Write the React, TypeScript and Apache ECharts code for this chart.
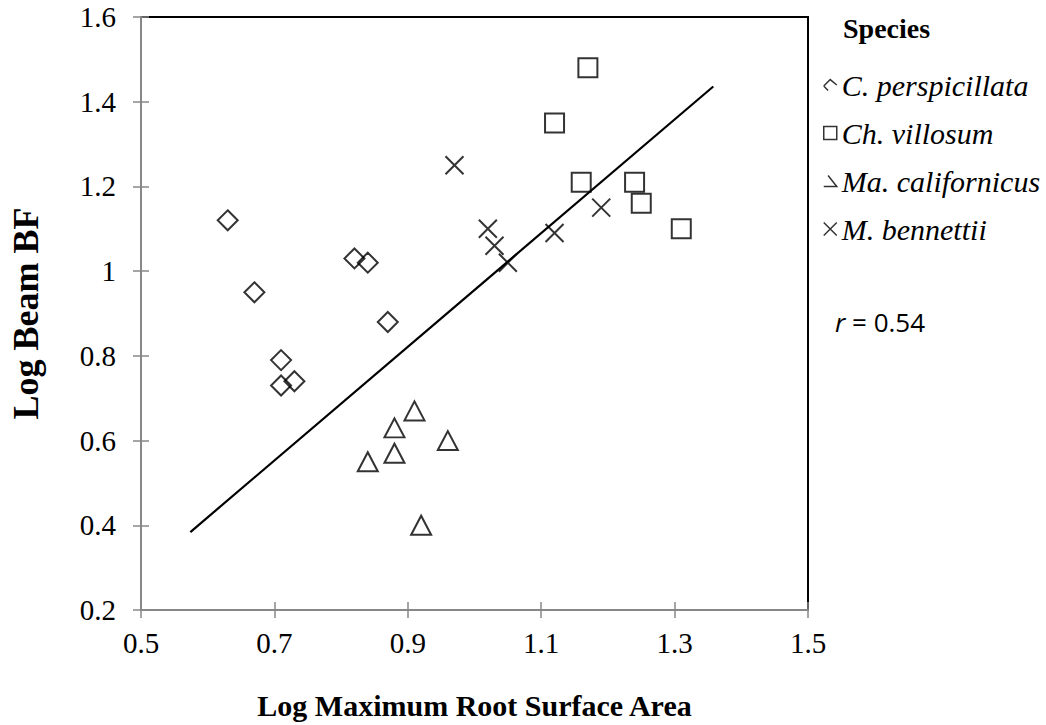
import React, { useEffect, useRef } from "react";
import * as echarts from "echarts";

// Data
const perspicillataX = [0.63, 0.67, 0.82, 0.84, 0.87, 0.71, 0.71, 0.73];
const perspicillataY = [1.12, 0.95, 1.03, 1.02, 0.88, 0.79, 0.73, 0.74];

const villosumX = [1.17, 1.12, 1.16, 1.24, 1.25, 1.31];
const villosumY = [1.48, 1.35, 1.21, 1.21, 1.16, 1.1];

const californicusX = [0.91, 0.88, 0.96, 0.88, 0.84, 0.92];
const californicusY = [0.67, 0.63, 0.6, 0.57, 0.55, 0.4];

const bennettiiX = [0.97, 1.02, 1.03, 1.05, 1.12, 1.19];
const bennettiiY = [1.25, 1.1, 1.06, 1.02, 1.09, 1.15];

const trendX = [0.574, 1.358];
const trendY = [0.384, 1.436];

const speciesNames = ["C. perspicillata", "Ch. villosum", "Ma. californicus", "M. bennettii"];

const xMin = 0.5, xMax = 1.5, xStep = 0.2;
const yMin = 0.2, yMax = 1.6, yStep = 0.2;

const zip = (xs: number[], ys: number[]) => xs.map((x, i) => [x, ys[i]]);

const SERIF = "'Liberation Serif', 'Times New Roman', serif";
const AXIS_GRAY = "#878787";

const crossPath = "path://M0,0 L10,10 M10,0 L0,10";

export default function App() {
  const ref = useRef<HTMLDivElement>(null);

  useEffect(() => {
    if (!ref.current) return;
    const chart = echarts.init(ref.current, undefined, { renderer: "svg" });

    const markerStyle = { color: "transparent", borderColor: "#000", borderWidth: 2 };

    const axisCommon = {
      type: "value" as const,
      splitLine: { show: false },
    };

    chart.setOption({
      animation: false,
      backgroundColor: "#fff",
      grid: {
        left: 141,
        top: 17,
        right: 238,
        bottom: 114,
        show: true,
        borderColor: "#000",
        borderWidth: 2,
        backgroundColor: "transparent",
      },
      legend: {
        orient: "vertical",
        left: 818,
        top: 65,
        itemWidth: 13,
        itemHeight: 13,
        itemGap: 18,
        textStyle: {
          fontFamily: SERIF,
          fontStyle: "italic",
          fontSize: 30,
          lineHeight: 30,
          color: "#000",
        },
        data: [
          { name: speciesNames[0], icon: "path://M0,7 L6,1 L12,6 M0,7 L4,11" },
          { name: speciesNames[1], icon: "rect" },
          { name: speciesNames[2], icon: "path://M4,0 L12,10 L0,10" },
          { name: speciesNames[3], icon: crossPath },
        ],
        itemStyle: { color: "transparent", borderColor: "#000", borderWidth: 1.5 },
      },
      graphic: [
        {
          type: "text",
          left: 843,
          top: 14,
          style: {
            text: "Species",
            font: `bold 28px ${SERIF}`,
            fill: "#000",
          },
        },
        {
          type: "text",
          left: 835,
          top: 309,
          style: {
            text: "{i|r} = 0.54",
            font: "26px 'Open Sans', sans-serif",
            fill: "#000",
            rich: {
              i: { fontStyle: "italic", fontFamily: "'Open Sans', sans-serif", fontSize: 26, fill: "#000" },
            },
          },
        },
      ],
      xAxis: [
        {
          ...axisCommon,
          min: xMin,
          max: xMax,
          interval: xStep,
          position: "bottom",
          axisLine: { show: true, onZero: false, lineStyle: { color: AXIS_GRAY, width: 2 } },
          axisTick: { show: true, inside: false, length: 8, lineStyle: { color: AXIS_GRAY, width: 1.5 } },
          axisLabel: { fontFamily: SERIF, fontSize: 29, color: "#000", margin: 18 },
          name: "Log Maximum Root Surface Area",
          nameLocation: "middle",
          nameGap: 80,
          nameTextStyle: { fontFamily: SERIF, fontSize: 30, fontWeight: "bold", color: "#000" },
        },
        {
          ...axisCommon,
          min: xMin,
          max: xMax,
          interval: xStep,
          position: "bottom",
          axisLine: { show: false, onZero: false },
          axisTick: { show: true, inside: true, length: 8, lineStyle: { color: AXIS_GRAY, width: 1.5 } },
          axisLabel: { show: false },
        },
      ],
      yAxis: [
        {
          ...axisCommon,
          min: yMin,
          max: yMax,
          interval: yStep,
          position: "left",
          axisLine: { show: true, onZero: false, lineStyle: { color: AXIS_GRAY, width: 2 } },
          axisTick: { show: true, inside: false, length: 8, lineStyle: { color: AXIS_GRAY, width: 1.5 } },
          axisLabel: { fontFamily: SERIF, fontSize: 29, color: "#000", margin: 25 },
          name: "Log Beam BF",
          nameLocation: "middle",
          nameRotate: 90,
          nameGap: 97,
          nameTextStyle: { fontFamily: SERIF, fontSize: 36, fontWeight: "bold", color: "#000" },
        },
        {
          ...axisCommon,
          min: yMin,
          max: yMax,
          interval: yStep,
          position: "left",
          axisLine: { show: false, onZero: false },
          axisTick: { show: true, inside: true, length: 8, lineStyle: { color: AXIS_GRAY, width: 1.5 } },
          axisLabel: { show: false },
        },
      ],
      series: [
        {
          name: "trend",
          type: "line",
          data: zip(trendX, trendY),
          showSymbol: false,
          symbol: "none",
          lineStyle: { color: "#000", width: 2.2 },
          z: 1,
          silent: true,
        },
        {
          name: speciesNames[0],
          type: "scatter",
          data: zip(perspicillataX, perspicillataY),
          symbol: "diamond",
          symbolSize: 20,
          itemStyle: markerStyle,
          z: 3,
        },
        {
          name: speciesNames[1],
          type: "scatter",
          data: zip(villosumX, villosumY),
          symbol: "rect",
          symbolSize: 19,
          itemStyle: markerStyle,
          z: 3,
        },
        {
          name: speciesNames[2],
          type: "scatter",
          data: zip(californicusX, californicusY),
          symbol: "triangle",
          symbolSize: [20, 19],
          itemStyle: markerStyle,
          z: 3,
        },
        {
          name: speciesNames[3],
          type: "scatter",
          data: zip(bennettiiX, bennettiiY),
          symbol: crossPath,
          symbolSize: 18,
          itemStyle: markerStyle,
          z: 3,
        },
      ],
    });

    return () => chart.dispose();
  }, []);

  return <div ref={ref} style={{ width: 1046, height: 725, position: "absolute", left: 0, top: 0 }} />;
}
